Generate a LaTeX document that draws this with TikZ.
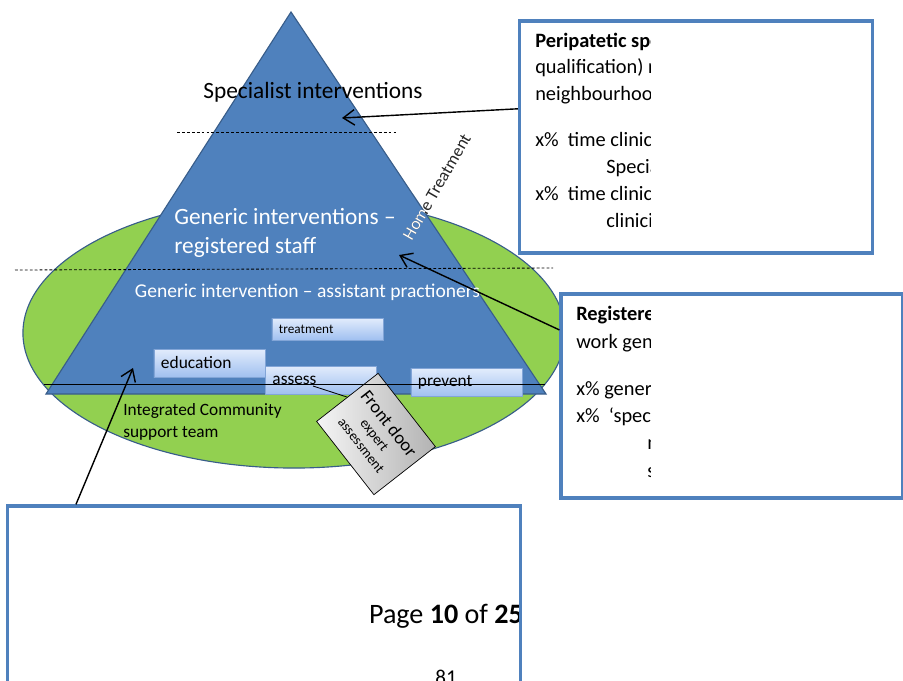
\documentclass[tikz,border=0pt]{standalone}
\usepackage{fontspec}
\setmainfont{Carlito}
\usetikzlibrary{arrows.meta}

\definecolor{pyramidblue}{RGB}{79,129,189}
\definecolor{pyramidedge}{RGB}{56,93,138}
\definecolor{teamgreen}{RGB}{146,208,80}
\definecolor{noteblue}{RGB}{79,129,189}
\definecolor{tasktop}{RGB}{226,236,252}
\definecolor{taskbottom}{RGB}{160,192,240}
\definecolor{taskedge}{RGB}{130,165,215}

\tikzset{
  notebox/.style={draw=noteblue, line width=2.2pt, fill=white, inner sep=0pt},
  notetext/.style={anchor=base west, align=left, inner sep=0pt, font=\fontsize{14.5}{19.4}\selectfont},
  taskbox/.style={draw=taskedge, line width=0.6pt, top color=tasktop, bottom color=taskbottom,
    text width=2.425cm, inner xsep=0.175cm, inner ysep=0pt, minimum height=0.7cm, align=left,
    font=\fontsize{12.3}{15}\selectfont},
  doorbox/.style={draw=black, line width=0.5pt, left color=gray!8, right color=gray!60,
    minimum width=2.325cm, minimum height=1.95cm, rotate=-52, align=center, inner sep=0pt,
    font=\fontsize{10}{12}\selectfont},
  pointer/.style={-{Straight Barb[length=8pt,width=11pt]}, line width=1pt},
  tier/.style={dash pattern=on 2pt off 1.5pt, line width=0.6pt}
}

\begin{document}
\begin{tikzpicture}[x=0.025cm, y=-0.025cm]
    \useasboundingbox (0,0) rectangle (903,680);

    % Community team and intervention pyramid
    \draw[draw=pyramidedge, fill=teamgreen, line width=0.8pt] (294,333) ellipse [x radius=6.775cm, y radius=3.375cm];
    \draw[draw=pyramidedge, fill=pyramidblue, line width=0.8pt] (291,12) -- (46,394) -- (546,394) -- cycle;

    % Tier borders
    \draw[tier] (177,132) -- (398,132);
    \draw[tier] (15,270) -- (553,268);

    % Tier labels
    \node[font=\fontsize{16.6}{20}\selectfont, anchor=base] (specialist) at (313,98) {Specialist interventions};
    \node[font=\fontsize{16.6}{20}\selectfont, text=white, anchor=base west, align=left, inner sep=0pt] (registered) at (174,253) {Generic interventions –\\registered staff};
    \node[font=\fontsize{13.9}{17}\selectfont, text=white, anchor=base] (assistant) at (307.5,297) {Generic intervention – assistant practioners};
    \node[font=\fontsize{12.3}{15.6}\selectfont, anchor=base west, align=left, inner sep=0pt] (team) at (123,437) {Integrated Community\\support team};

    % Home Treatment: dark off the pyramid, white on it
    \node[font=\fontsize{12.3}{14}\selectfont, text=black!85, rotate=60] (home) at (437,187) {Home Treatment};
    \begin{scope}
        \clip (291,12) -- (46,394) -- (546,394) -- cycle;
        \node[font=\fontsize{12.3}{14}\selectfont, text=white, rotate=60] (homeinner) at (437,187) {Home Treatment};
    \end{scope}

    % Task boxes
    \node[taskbox, minimum height=0.55cm, font=\fontsize{9.4}{11}\selectfont] (treatment) at (327.5,329) {treatment};
    \node[taskbox, font=\fontsize{12.4}{15}\selectfont] (education) at (209.5,363) {education};
    \node[taskbox] (assess) at (321,380) {assess};
    \node[taskbox] (prevent) at (466.5,382.5) {prevent};

    % Front door
    \node[doorbox] (front) at (376,434) {{\fontsize{13}{15}\selectfont Front door}\\expert\\assessment};
    \coordinate (assesslink) at (313,386);
    \draw[line width=0.6pt] (assesslink) -- (front.west);

    \draw[line width=0.7pt] (44,384) -- (545,384);

    % Note boxes
    \node[notebox, minimum width=8.825cm, minimum height=5.8cm] (peri) at (696,137) {};
    \node[notebox, minimum width=8.525cm, minimum height=5.1cm] (reg) at (731.5,396) {};

    \begin{scope}
        \clip (500,0) rectangle (650,680);
        \node[notetext, font=\fontsize{14.5}{19}\selectfont] (peritext) at (535,227) {\textbf{Peripatetic spe}\\qualification) r\\neighbourhoo\\[14pt]x\%\ \ time clinica\\\hspace*{50.5pt}Specia\\x\%\ \ time clinica\\\hspace*{50.5pt}clinici};
        \node[notetext] (regtext) at (576,477) {\textbf{Registere}\\work gen\\[14pt]x\% gener\\x\%\ \ ‘speci\\\hspace*{50.5pt}n\\\hspace*{50.5pt}s};
    \end{scope}

    % Page footer
    \node[font=\fontsize{20}{24}\selectfont, anchor=base] (page) at (446,623) {Page \textbf{10} of \textbf{25}};
    \node[font=\fontsize{15}{18}\selectfont, anchor=base] (pagenum) at (446,684) {81};
    \node[notebox, fill=none, minimum width=12.8cm, minimum height=5.35cm] (lower) at (264,613) {};

    % Arrows
    \coordinate (spectip) at (342,118);
    \coordinate (regtip) at (399,255);
    \coordinate (teamtip) at (133,368);
    \draw[pointer] (peri.171) -- (spectip);
    \draw[pointer] (reg.159) -- (regtip);
    \draw[pointer] (lower.150) -- (teamtip);
\end{tikzpicture}
\end{document}
